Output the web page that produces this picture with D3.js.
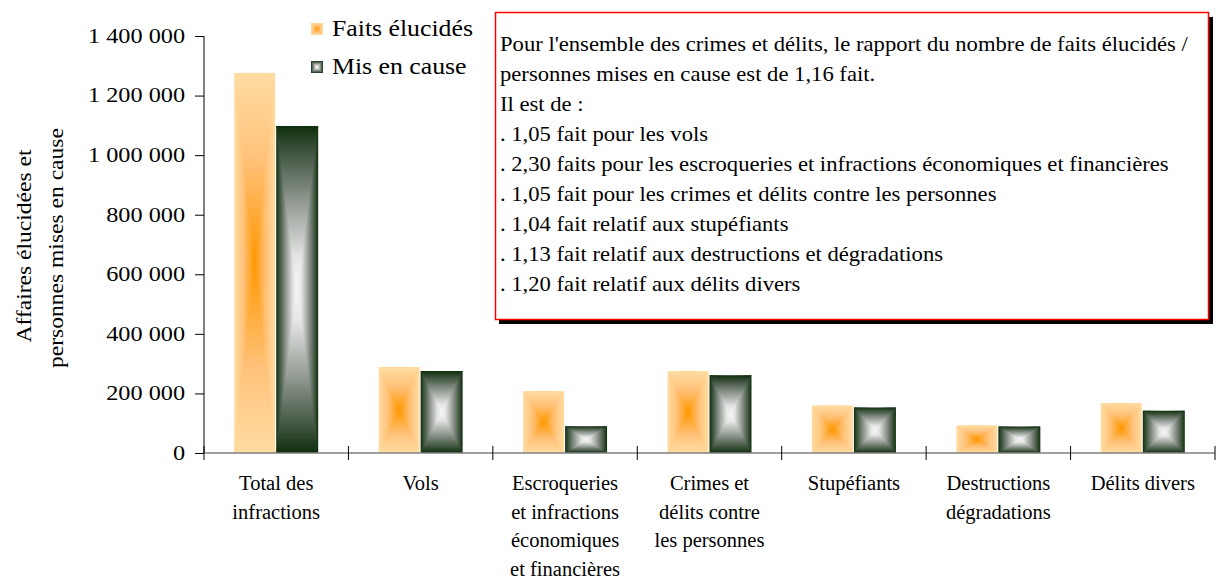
<!DOCTYPE html>
<html>
<head>
<meta charset="utf-8">
<script src="https://cdn.jsdelivr.net/npm/d3@7"></script>
<style>
  body { margin: 0; background: #fff; }
</style>
</head>
<body>
<svg width="1219" height="581" font-family="Liberation Serif, Times New Roman, serif"></svg>
<script>
const categories = [
  ['Total des', 'infractions'],
  ['Vols'],
  ['Escroqueries', 'et infractions', 'économiques', 'et financières'],
  ['Crimes et', 'délits contre', 'les personnes'],
  ['Stupéfiants'],
  ['Destructions', 'dégradations'],
  ['Délits divers']
];
const seriesNames = ['Faits élucidés', 'Mis en cause'];
const faitsElucides = [1276000, 288000, 207000, 274000, 159000, 92000, 167000];
const misEnCause = [1098000, 275000, 90000, 261000, 153000, 89000, 142000];
const yTicks = [0, 200000, 400000, 600000, 800000, 1000000, 1200000, 1400000];
const noteLines = [
  "Pour l'ensemble des crimes et délits, le rapport du nombre de faits élucidés /",
  "personnes mises en cause est de 1,16 fait.",
  "Il est de :",
  ". 1,05 fait pour les vols",
  ". 2,30 faits pour les escroqueries et infractions économiques et financières",
  ". 1,05 fait pour les crimes et délits contre les personnes",
  ". 1,04 fait relatif aux stupéfiants",
  ". 1,13 fait relatif aux destructions et dégradations",
  ". 1,20 fait relatif aux délits divers"
];

const FONT = 'Liberation Serif, Times New Roman, serif';
const svg = d3.select('svg');
const defs = svg.append('defs');

// rectangular "from centre" gradient: 0 = edge, 1 = centre
const palettes = [
  [[0, '#ffdca2'], [0.45, '#ffc27a'], [1, '#ff9700']],
  [[0, '#0e2e0c'], [0.12, '#334a33'], [0.45, '#8e968e'], [0.8, '#e4e4e4'], [1, '#f6f6f6']]
];

function makeGrad(id, stops, x1, y1, x2, y2, mirror) {
  const g = defs.append('linearGradient').attr('id', id)
    .attr('x1', x1).attr('y1', y1).attr('x2', x2).attr('y2', y2);
  let list = stops.map(s => [s[0] * (mirror ? 0.5 : 1), s[1]]);
  if (mirror) list = list.concat(stops.slice().reverse().map(s => [1 - s[0] * 0.5, s[1]]));
  list.forEach(s => g.append('stop').attr('offset', s[0]).attr('stop-color', s[1]));
}
palettes.forEach((p, i) => {
  makeGrad('h' + i, p, 0, 0, 1, 0, true);   // whole rect, horizontal edge-centre-edge
  makeGrad('t' + i, p, 0, 0, 0, 1, false);  // top triangle, edge -> centre
  makeGrad('b' + i, p, 0, 1, 0, 0, false);  // bottom triangle, edge -> centre
});

function boxGradRect(g, x, y, w, h, i) {
  const cx = x + w / 2, cy = y + h / 2;
  g.append('rect').attr('x', x).attr('y', y).attr('width', w).attr('height', h)
    .attr('fill', `url(#h${i})`);
  g.append('path').attr('d', `M${x},${y}L${x + w},${y}L${cx},${cy}Z`).attr('fill', `url(#t${i})`);
  g.append('path').attr('d', `M${x},${y + h}L${x + w},${y + h}L${cx},${cy}Z`).attr('fill', `url(#b${i})`);
}

// the source picture is a bit wider than plain Times, stretch texts to fit
function stretch(sel, sx) {
  sel.each(function () {
    const t = d3.select(this);
    const x = +t.attr('x') || 0, y = +t.attr('y') || 0;
    t.attr('transform', `translate(${x},${y}) scale(${sx},1) translate(${-x},${-y})`);
  });
}
const factor = (node, target) => target / node.getComputedTextLength();

const x0 = d3.scaleBand().domain(d3.range(categories.length)).range([204, 1215]);
const x1 = d3.scaleBand().domain([0, 1]).range([0, x0.bandwidth()]).paddingOuter(0.72);
const y = d3.scaleLinear().domain([0, 1400000]).range([453, 36]);

const fr = d3.formatLocale({ decimal: ',', thousands: '\u00a0', grouping: [3], currency: ['', ' €'] });
const fmt = fr.format(',');

// bars
const series = [faitsElucides, misEnCause];
const barsG = svg.append('g');
series.forEach((vals, si) => {
  vals.forEach((v, ci) => {
    const bx = x0(ci) + x1(si);
    const by = y(v);
    boxGradRect(barsG, bx, by, x1.bandwidth() - (si === 0 ? 1 : 0), y(0) - by, si);
  });
});

// y axis
const yAxis = svg.append('g').attr('transform', 'translate(204,0)')
  .call(d3.axisLeft(y).tickValues(yTicks).tickFormat(fmt).tickSize(9).tickPadding(10));
yAxis.attr('font-family', FONT);
yAxis.select('.domain').attr('stroke', '#000').attr('d', 'M0,36V453');
yAxis.selectAll('.tick line').attr('stroke', '#000');
const yLabels = yAxis.selectAll('.tick text').attr('font-size', 20).attr('fill', '#000');
const yTop = yLabels.filter(d => d === 1400000).node();
stretch(yLabels, factor(yTop, 97));

// x axis
svg.append('line').attr('x1', 204).attr('x2', 1215).attr('y1', 453).attr('y2', 453)
  .attr('stroke', '#7f7f7f').attr('stroke-width', 1.5);
svg.append('g').selectAll('line').data(d3.range(categories.length + 1)).join('line')
  .attr('x1', d => 204 + d * x0.step()).attr('x2', d => 204 + d * x0.step())
  .attr('y1', 446).attr('y2', 460).attr('stroke', '#000');

const catG = svg.append('g').attr('font-size', 20).attr('text-anchor', 'middle');
categories.forEach((lines, ci) => {
  const cx = x0(ci) + x0.bandwidth() / 2;
  const t = catG.append('text').attr('x', cx).attr('y', 490);
  lines.forEach((l, k) => t.append('tspan').attr('x', cx).attr('y', 490 + k * 28.7).text(l));
});
const catRef = catG.selectAll('tspan').filter(function () { return this.textContent === 'Escroqueries'; }).node();
stretch(catG.selectAll('text'), factor(catRef, 106));

// y title
const yt = svg.append('g').attr('font-size', 21).attr('text-anchor', 'middle')
  .style('white-space', 'pre');
const yt1 = yt.append('text').attr('x', 0).attr('y', 0).text('Affaires élucidées  et');
const yt2 = yt.append('text').attr('x', 0).attr('y', 0).text('personnes mises en cause');
const ys = factor(yt2.node(), 240);
yt1.attr('transform', `translate(31,246) rotate(-90) scale(${ys},1)`);
yt2.attr('transform', `translate(63,248) rotate(-90) scale(${ys},1)`);

// legend
const leg = svg.append('g');
seriesNames.forEach((n, i) => {
  const ly = 23 + i * 38;
  boxGradRect(leg, 311, ly, 12, 12, i);
  leg.append('text').attr('x', 332).attr('y', ly + 13).attr('font-size', 24).text(n);
});
const legTexts = leg.selectAll('text');
stretch(legTexts, factor(legTexts.node(), 141));

// note box
svg.append('rect').attr('x', 499).attr('y', 17).attr('width', 714).attr('height', 307).attr('fill', '#000');
svg.append('rect').attr('x', 495.5).attr('y', 12.5).attr('width', 713).attr('height', 307)
  .attr('fill', '#fff').attr('stroke', '#ff0000').attr('stroke-width', 1.5);
const note = svg.append('text').attr('font-size', 21).attr('x', 500).attr('y', 51);
noteLines.forEach((l, k) => note.append('tspan').attr('x', 500).attr('y', 51 + k * 30).text(l));
stretch(note, factor(note.select('tspan').node(), 688));
</script>
</body>
</html>
